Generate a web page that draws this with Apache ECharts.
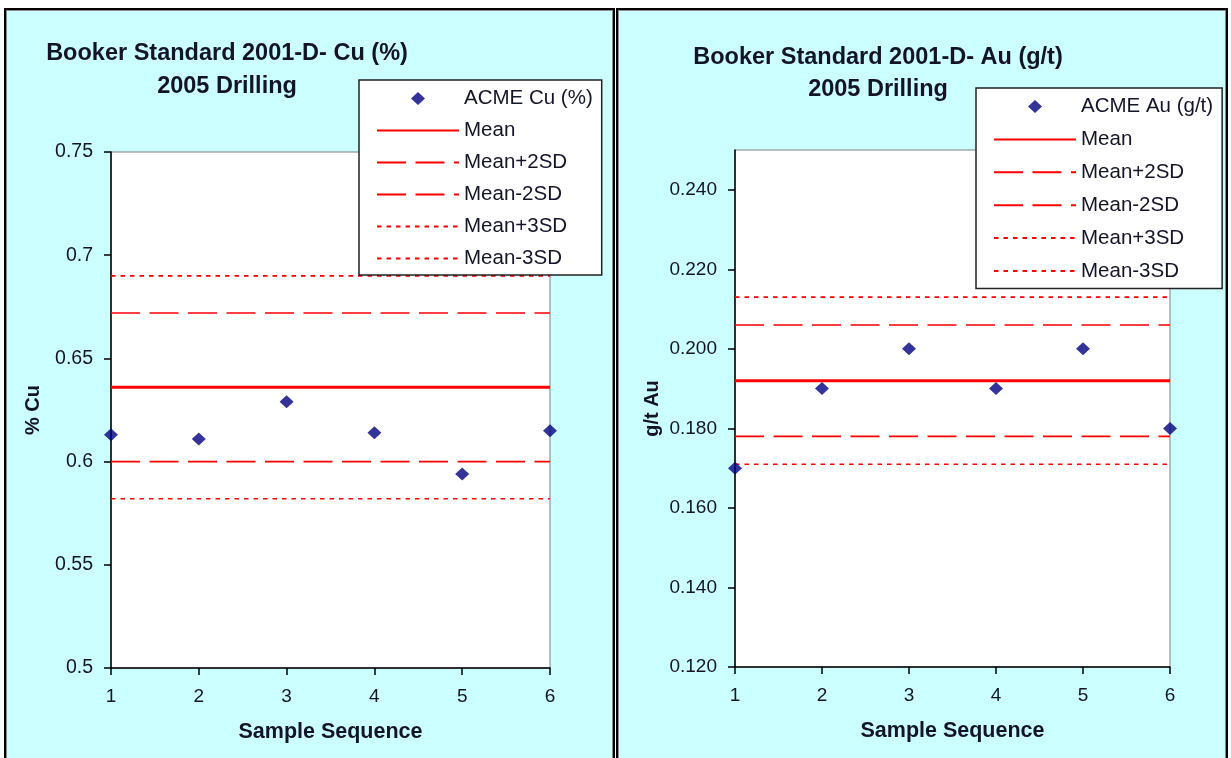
<!DOCTYPE html>
<html>
<head>
<meta charset="utf-8">
<title>Booker Standard 2001-D - 2005 Drilling</title>
<script src="https://cdn.jsdelivr.net/npm/echarts@6/dist/echarts.min.js"></script>
<style>
  html, body { margin: 0; padding: 0; background: #ffffff; overflow: hidden; }
  .panel {
    position: absolute; top: 8px; height: 800px; box-sizing: border-box;
    background: #CCFFFF; border: 2px solid #000;
    box-shadow: inset 1px 1px 0 #8a8a8a, inset -1px 0 0 #8a8a8a;
  }
  #chart { position: absolute; left: 0; top: 0; width: 1231px; height: 758px; }
</style>
</head>
<body>
<div class="panel" style="left:4px; width:611px;"></div>
<div class="panel" style="left:616px; width:612px;"></div>
<div id="chart"></div>
<script>
// Sample sequence along the x axis
const sampleSeq = [1, 2, 3, 4, 5, 6];

// ACME assay results for the standard
const cuValues = [0.613, 0.611, 0.629, 0.614, 0.594, 0.615];
const auValues = [0.170, 0.190, 0.200, 0.190, 0.200, 0.180];

// Control limits: mean and +/- 2SD, 3SD
const limitNames = ['Mean', 'Mean+2SD', 'Mean-2SD', 'Mean+3SD', 'Mean-3SD'];
const cuLimits = [0.636, 0.672, 0.600, 0.690, 0.582];
const auLimits = [0.192, 0.206, 0.178, 0.213, 0.171];

// Gold axis tick values (top of axis carries no label)
const auTickValues = [0.12, 0.14, 0.16, 0.18, 0.20, 0.22, 0.24];

const FONT = "'Liberation Sans', Arial, sans-serif";
const TEXT = '#141428';
const RED = '#FF0000';
const NAVY = '#000080';

// Legend marker: a diamond centred in the 82x13 icon box (the two zero-area
// sub-paths at the corners only pin the box size so the diamond keeps its shape)
const LEGEND_DIAMOND = 'path://M0,0L0.01,0Z M82,13L81.99,13Z M34,6.5L41,0L48,6.5L41,13Z';

const limitStyles = [
  { width: 3, type: 'solid' },
  { width: 1.6, type: [29, 9.5] },
  { width: 1.6, type: [29, 9.5] },
  { width: 1.6, type: [4.5, 5] },
  { width: 1.6, type: [4.5, 5] }
];

function limitSeries(values, axisIdx) {
  const x0 = sampleSeq[0], x1 = sampleSeq[sampleSeq.length - 1];
  return limitNames.map((name, i) => ({
    type: 'line',
    name: name,
    xAxisIndex: axisIdx,
    yAxisIndex: axisIdx,
    data: [[x0, values[i]], [x1, values[i]]],
    symbol: 'none',
    color: RED,
    lineStyle: Object.assign({ color: RED }, limitStyles[i]),
    silent: true,
    animation: false,
    z: 2
  }));
}

function scatterSeries(name, values, axisIdx) {
  return {
    type: 'scatter',
    name: name,
    xAxisIndex: axisIdx,
    yAxisIndex: axisIdx,
    data: sampleSeq.map((s, i) => [s, values[i]]),
    symbol: 'diamond',
    symbolSize: [14, 13],
    itemStyle: { color: NAVY },
    animation: false,
    z: 5
  };
}

function xAxis(gridIndex) {
  return {
    type: 'value', gridIndex: gridIndex,
    min: 1, max: 6, interval: 1,
    name: 'Sample Sequence', nameLocation: 'middle', nameGap: 53,
    nameTextStyle: { fontFamily: FONT, fontSize: 21.5, fontWeight: 'bold', color: TEXT },
    axisLine: { show: true, lineStyle: { color: '#000', width: 1.5 } },
    axisTick: { show: true, inside: false, length: 7, lineStyle: { color: '#000', width: 1.5 } },
    axisLabel: { margin: 19, fontFamily: FONT, fontSize: 19, color: TEXT },
    splitLine: { show: false }
  };
}

function legend(left, top, gap, padBottom, firstName) {
  return {
    orient: 'vertical',
    left: left, top: top,
    backgroundColor: '#ffffff',
    borderColor: '#222',
    borderWidth: 1.5,
    padding: [8, 9, padBottom, 17],
    itemWidth: 82, itemHeight: 13,
    itemGap: gap,
    selectedMode: false,
    textStyle: { fontFamily: FONT, fontSize: 20.5, color: TEXT },
    data: [{ name: firstName, icon: LEGEND_DIAMOND, itemStyle: { color: NAVY } }]
      .concat(limitNames.map(n => ({ name: n, itemStyle: { opacity: 0 } })))
  };
}

const chart = echarts.init(document.getElementById('chart'), null, { renderer: 'canvas' });

chart.setOption({
  backgroundColor: 'transparent',
  animation: false,
  title: [
    {
      text: 'Booker Standard 2001-D- Cu (%)\n2005 Drilling',
      left: 222, top: 32, textAlign: 'center',
      textStyle: { fontFamily: FONT, fontSize: 23.5, fontWeight: 'bold', color: TEXT, lineHeight: 33, align: 'center' }
    },
    {
      text: 'Booker Standard 2001-D- Au (g/t)\n2005 Drilling',
      left: 873, top: 37, textAlign: 'center',
      textStyle: { fontFamily: FONT, fontSize: 23.5, fontWeight: 'bold', color: TEXT, lineHeight: 32, align: 'center' }
    }
  ],
  legend: [
    legend(359, 80, 11, 6, 'ACME Cu (%)'),
    legend(976, 88, 11.9, 7, 'ACME Au (g/t)')
  ],
  grid: [
    { left: 111, top: 152, width: 439, height: 516, show: true, backgroundColor: '#ffffff', borderColor: '#808080', borderWidth: 1, z: 0 },
    { left: 735, top: 150, width: 435, height: 517, show: true, backgroundColor: '#ffffff', borderColor: '#808080', borderWidth: 1, z: 0 }
  ],
  xAxis: [xAxis(0), xAxis(1)],
  yAxis: [
    {
      type: 'value', gridIndex: 0,
      min: 0.5, max: 0.75, interval: 0.05,
      name: '% Cu', nameLocation: 'middle', nameGap: 68, nameRotate: 90,
      nameTextStyle: { fontFamily: FONT, fontSize: 20, fontWeight: 'bold', color: TEXT },
      axisLine: { show: true, lineStyle: { color: '#000', width: 1.5 } },
      axisTick: { show: true, length: 7, lineStyle: { color: '#000', width: 1.5 } },
      axisLabel: { margin: 18, fontFamily: FONT, fontSize: 19.5, color: TEXT },
      splitLine: { show: false }
    },
    {
      type: 'value', gridIndex: 1,
      min: 0.12, max: 0.25, interval: 0.02,
      name: 'g/t Au', nameLocation: 'middle', nameGap: 73, nameRotate: 90,
      nameTextStyle: { fontFamily: FONT, fontSize: 20, fontWeight: 'bold', color: TEXT },
      axisLine: { show: true, lineStyle: { color: '#000', width: 1.5 } },
      axisTick: { show: true, length: 7, customValues: auTickValues, lineStyle: { color: '#000', width: 1.5 } },
      axisLabel: {
        margin: 18, fontFamily: FONT, fontSize: 19, color: TEXT,
        customValues: auTickValues,
        formatter: v => v.toFixed(3)
      },
      splitLine: { show: false }
    }
  ],
  series: [].concat(
    limitSeries(cuLimits, 0),
    [scatterSeries('ACME Cu (%)', cuValues, 0)],
    limitSeries(auLimits, 1),
    [scatterSeries('ACME Au (g/t)', auValues, 1)]
  )
});
</script>
</body>
</html>
